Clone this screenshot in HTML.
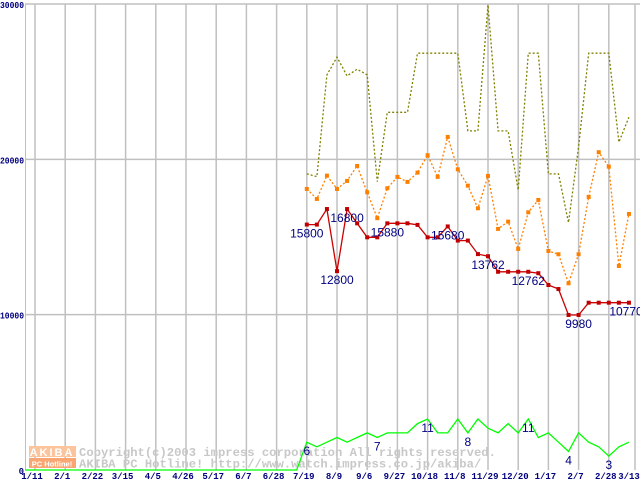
<!DOCTYPE html>
<html><head><meta charset="utf-8"><style>
html,body{margin:0;padding:0;background:#fff;}
svg{display:block;}
</style></head><body>
<svg id="chart" width="640" height="480" xmlns="http://www.w3.org/2000/svg" font-family="Liberation Sans, sans-serif">
<g id="grid"></g>
<g id="watermark">
  <rect x="29" y="446" width="47" height="11" fill="#fbc49c"/>
  <rect x="29" y="458" width="47" height="10" fill="#f9a672"/>
  <text x="52" y="456" text-anchor="middle" font-size="11" font-weight="bold" fill="#fff" letter-spacing="2">AKIBA</text>
  <text x="52" y="466.5" text-anchor="middle" font-size="7.5" font-weight="bold" fill="#fff">PC Hotline!</text>
  <text x="79" y="456" font-family="Liberation Mono, monospace" font-size="12.2" font-weight="bold" fill="#c8c8c8">Copyright(c)2003 impress corporation All rights reserved.</text>
  <text x="79" y="467.5" font-family="Liberation Mono, monospace" font-size="12.2" font-weight="bold" fill="#c8c8c8">AKIBA PC Hotline!  http://www.watch.impress.co.jp/akiba/</text>
</g>
<g id="series"></g>
<g id="axes"></g>
</svg>
<script>
const xLabels = ["1/11","2/1","2/22","3/15","4/5","4/26","5/17","6/7","6/28","7/19","8/9","9/6","9/27","10/18","11/8","11/29","12/20","1/17","2/7","2/28","3/13"];
const yTicks = [0,10000,20000,30000];
const redValues = [15800,15800,16800,12800,16800,15880,14980,14980,15880,15880,15880,15780,14980,14980,15680,14770,14770,13900,13762,12762,12762,12762,12762,12670,11910,11650,9980,9980,10770,10770,10770,10770,10770];
const orangeValues = [18094,17450,18950,18094,18610,19575,17880,16210,18140,18870,18545,19145,20265,18870,21440,19360,18305,16850,18930,15520,15990,14230,16590,17385,14100,13890,12020,13890,17580,20460,19530,13135,16485];
const oliveValues = [19060,18890,25435,26575,25370,25800,25435,18565,23030,23030,23030,26830,26830,26830,26830,26830,21830,21830,29940,21830,21830,18030,26830,26830,19060,19060,15925,20820,26830,26830,26830,21100,22710];
const greenValues = [0,0,0,0,0,0,0,0,0,0,0,0,0,0,0,0,0,0,0,0,0,0,0,0,0,0,0,6,5,6,7,6,7,8,7,8,8,8,10,11,8,8,11,8,11,9,8,10,8,11,7,8,6,4,8,6,5,3,5,6];
const redLabelIdx = [0,3,4,8,14,18,22,27,32];
const greenLabelIdx = [27,34,39,43,49,53,57];

const NS="http://www.w3.org/2000/svg";
const X0=35, GRID=30.2, WEEK=GRID/3, Y0=470, PXK=(470-4)/30000, GK=4.64;
const greenStart=0, priceStart=27;
function xw(i){return X0+i*WEEK;}
function yv(v){return Y0-v*PXK;}
function yg(v){return Y0-v*GK;}
function mk(tag,attrs,parent){const e=document.createElementNS(NS,tag);for(const k in attrs)e.setAttribute(k,attrs[k]);parent.appendChild(e);return e;}
const grid=document.getElementById('grid'), series=document.getElementById('series'), axes=document.getElementById('axes');

yTicks.forEach(t=>{
  if(t>0){const l=mk('line',{x1:25,x2:640,y1:yv(t),y2:yv(t),stroke:'#c0c0c0','stroke-width':1.5},grid);
  
  }
  const s=String(t);
  const attrs={x:24,y:yv(t)+4,'text-anchor':'end','font-size':9,'font-weight':'bold',fill:'#000080','font-family':'Liberation Mono, monospace'};
  if(s.length>1){attrs.x=0;attrs['text-anchor']='start';attrs.textLength=24;attrs.lengthAdjust='spacingAndGlyphs';}
  const tx=mk('text',attrs,axes);
  tx.textContent=s;
  
  
});
const ax=mk('line',{x1:25.5,x2:25.5,y1:4,y2:470,stroke:'#c0c0c0','stroke-width':1},grid);


xLabels.forEach((lab,k)=>{
  const gx = k<20 ? X0+k*GRID : 635;
  const l=mk('line',{x1:gx,x2:gx,y1:4,y2:470,stroke:'#c0c0c0','stroke-width':1.5},grid);
  
  
  const tx=mk('text',{x:k<20?gx-3:629,y:479,'text-anchor':'middle','font-size':9,'font-weight':'bold',fill:'#000080','font-family':'Liberation Mono, monospace'},axes);
  tx.textContent=lab;
  
  
});

function pts(vals,start,yf){return vals.map((v,i)=>xw(start+i).toFixed(1)+','+yf(v).toFixed(1)).join(' ');}
const ol=mk('polyline',{points:pts(oliveValues,priceStart,yv),fill:'none',stroke:'#808000','stroke-width':1.3,'stroke-dasharray':'2,2'},series);


const orl=mk('polyline',{points:pts(orangeValues,priceStart,yv),fill:'none',stroke:'#ff8000','stroke-width':1.3,'stroke-dasharray':'2,2'},series);


orangeValues.forEach((v,i)=>{
  const r=mk('rect',{x:xw(priceStart+i)-2,y:yv(v)-2,width:4,height:4,fill:'#ff8000'},series);
  
  
});
const rl=mk('polyline',{points:pts(redValues,priceStart,yv),fill:'none',stroke:'#cc0000','stroke-width':1.3},series);


redValues.forEach((v,i)=>{
  const r=mk('rect',{x:xw(priceStart+i)-2,y:yv(v)-2,width:4,height:4,fill:'#c00000'},series);
  
  
});
const gl=mk('polyline',{points:pts(greenValues,greenStart,yg),fill:'none',stroke:'#00ff00','stroke-width':1.3},series);


const gl0=mk('line',{x1:25,x2:X0,y1:470,y2:470,stroke:'#00ff00','stroke-width':1.3},series);



redLabelIdx.forEach(i=>{
  let x=xw(priceStart+i); if(x>620)x=626;
  const t=mk('text',{x:x,y:yv(redValues[i])+13,'text-anchor':'middle','font-size':12,fill:'#000080'},series);
  t.textContent=String(redValues[i]);
  
  
});
greenLabelIdx.forEach(i=>{
  const t=mk('text',{x:xw(i),y:yg(greenValues[i])+13,'text-anchor':'middle','font-size':12,fill:'#000080'},series);
  t.textContent=String(greenValues[i]);
  
  
});
</script>
</body></html>
